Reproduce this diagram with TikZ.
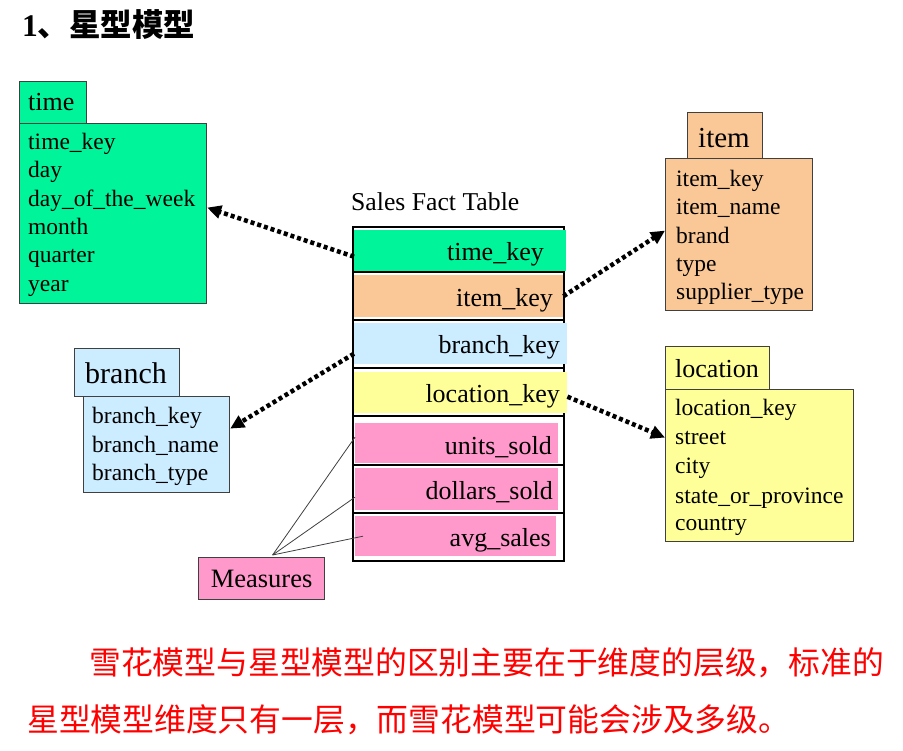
\documentclass[tikz,border=0pt]{standalone}
\usepackage{fontspec}
\setmainfont{Liberation Serif}
\newfontfamily\cjk{Noto Sans CJK SC}
\usetikzlibrary{arrows.meta}
\definecolor{cgreen}{RGB}{0,245,155}
\definecolor{corange}{RGB}{250,200,150}
\definecolor{cblue}{RGB}{204,236,255}
\definecolor{cyellow}{RGB}{255,255,153}
\definecolor{cpink}{RGB}{255,153,204}
\definecolor{cborder}{RGB}{64,64,64}
\tikzset{
  dimbox/.style={draw=cborder, line width=1.2pt, anchor=north west, inner sep=0pt},
  ln/.style={anchor=base west, inner sep=0pt, font=\fontsize{23.5}{28}\selectfont},
  hd/.style={anchor=base west, inner sep=0pt},
  rowbox/.style={anchor=north west, inner sep=0pt, draw=none},
  rowtxt/.style={anchor=base east, inner sep=0pt, font=\fontsize{26}{30}\selectfont},
  sep/.style={line width=1.6pt, black},
  dotarrow/.style={line width=4.5pt, dash pattern=on 4pt off 3pt, -{Triangle[length=14pt,width=13pt]}},
  measline/.style={line width=0.8pt, draw=cborder},
  note/.style={anchor=west, inner sep=0pt, text=red, font=\cjk\fontsize{31.8}{34}\selectfont}
}
\begin{document}
\begin{tikzpicture}[x=1pt,y=-1pt]
\useasboundingbox[fill=white] (0,0) rectangle (903,751);

% title
\node[anchor=west, inner sep=0pt, font=\fontsize{31.5}{34}\selectfont\bfseries] (title) at (22,25) {1{\cjk\bfseries 、星型模型}};

% time dimension
\node[dimbox, fill=cgreen, minimum width=67, minimum height=42] (timeh) at (19,81) {};
\node[dimbox, fill=cgreen, minimum width=187, minimum height=180] (timeb) at (19,123) {};
\node[hd, font=\fontsize{26}{30}\selectfont] (timet) at (28,111) {time};
\node[ln] (t1) at (28,150) {time\_key};
\node[ln] (t2) at (28,178) {day};
\node[ln] (t3) at (28,207) {day\_of\_the\_week};
\node[ln] (t4) at (28,235) {month};
\node[ln] (t5) at (28,263) {quarter};
\node[ln] (t6) at (28,292) {year};

% item dimension
\node[dimbox, fill=corange, minimum width=75, minimum height=46] (itemh) at (687,112) {};
\node[dimbox, fill=corange, minimum width=147, minimum height=152] (itemb) at (665,158) {};
\node[hd, font=\fontsize{29}{32}\selectfont] (itemt) at (698,148) {item};
\node[ln] (i1) at (676,187) {item\_key};
\node[ln] (i2) at (676,215) {item\_name};
\node[ln] (i3) at (676,244) {brand};
\node[ln] (i4) at (676,272) {type};
\node[ln] (i5) at (676,300) {supplier\_type};

% branch dimension
\node[dimbox, fill=cblue, minimum width=105, minimum height=48] (branchh) at (74,348) {};
\node[dimbox, fill=cblue, minimum width=146, minimum height=96] (branchb) at (83,396) {};
\node[hd, font=\fontsize{30}{33}\selectfont] (brancht) at (85,384) {branch};
\node[ln] (b1) at (92,424) {branch\_key};
\node[ln] (b2) at (92,453) {branch\_name};
\node[ln] (b3) at (92,480) {branch\_type};

% location dimension
\node[dimbox, fill=cyellow, minimum width=104, minimum height=43] (loch) at (665,346) {};
\node[dimbox, fill=cyellow, minimum width=188, minimum height=152] (locb) at (665,389) {};
\node[hd, font=\fontsize{26}{30}\selectfont] (loct) at (675,378) {location};
\node[ln] (l1) at (675,416) {location\_key};
\node[ln] (l2) at (675,445) {street};
\node[ln] (l3) at (675,474) {city};
\node[ln] (l4) at (675,503) {state\_or\_province};
\node[ln] (l5) at (675,530) {country};

% fact table
\node[hd, font=\fontsize{25.7}{30}\selectfont] (facttitle) at (351,211) {Sales Fact Table};
\node[draw=black, line width=1.6pt, anchor=north west, inner sep=0pt, minimum width=211, minimum height=334] (fact) at (352,226) {};
\foreach \yy in {272,320,368,416,465,513} \draw[sep] (352,\yy) -- (563,\yy);

\node[rowbox, fill=cgreen, minimum width=212, minimum height=41] (rtime) at (354,230) {};
\node[rowbox, fill=corange, minimum width=209, minimum height=42] (ritem) at (354,275) {};
\node[rowbox, fill=cblue, minimum width=213, minimum height=41] (rbranch) at (354,323) {};
\node[rowbox, fill=cyellow, minimum width=213, minimum height=41] (rloc) at (354,372) {};
\node[rowbox, fill=cpink, minimum width=203, minimum height=40] (runits) at (355,423) {};
\node[rowbox, fill=cpink, minimum width=203, minimum height=42] (rdollars) at (355,468) {};
\node[rowbox, fill=cpink, minimum width=201, minimum height=40] (ravg) at (355,516) {};

\node[rowtxt] (ft1) at (544,261) {time\_key};
\node[rowtxt] (ft2) at (553,307) {item\_key};
\node[rowtxt] (ft3) at (560,354) {branch\_key};
\node[rowtxt] (ft4) at (560,403) {location\_key};
\node[rowtxt] (ft5) at (552,454) {units\_sold};
\node[rowtxt] (ft6) at (553,499) {dollars\_sold};
\node[rowtxt] (ft7) at (551,546) {avg\_sales};

% measures
\node[draw=cborder, line width=1.2pt, fill=cpink, anchor=north west, inner sep=0pt, minimum width=126, minimum height=42, font=\fontsize{26.5}{30}\selectfont] (meas) at (198,557) {Measures};
\coordinate (mt) at ([xshift=11pt,yshift=2pt]meas.north);
\draw[measline] (mt) -- ([yshift=6pt]runits.west);
\draw[measline] (mt) -- ([yshift=-8pt]rdollars.west);
\draw[measline] (mt) -- ([xshift=8pt]ravg.west);

% dotted arrows
\draw[dotarrow] ([yshift=-6pt]rtime.west) -- ([yshift=6pt]timeb.east);
\draw[dotarrow] (ritem.east) -- ([yshift=4pt]itemb.west);
\draw[dotarrow] ([yshift=-10pt]rbranch.west) -- ([yshift=16pt]branchb.east);
\draw[dotarrow] ([yshift=-4pt]rloc.east) -- ([yshift=28pt]locb.west);

% note
\node[note] (n1) at (89,663) {雪花模型与星型模型的区别主要在于维度的层级，标准的};
\node[note] (n2) at (27,720) {星型模型维度只有一层，而雪花模型可能会涉及多级。};
\end{tikzpicture}
\end{document}
